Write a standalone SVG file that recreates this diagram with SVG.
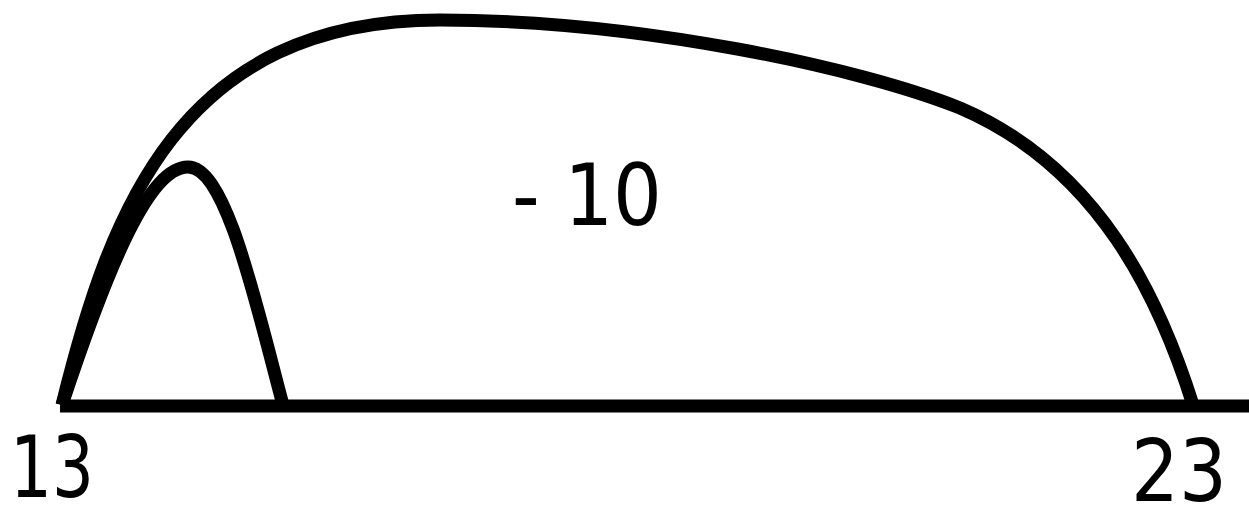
<svg xmlns="http://www.w3.org/2000/svg" width="1249" height="505" viewBox="0 0 1249 505">
<style>
.ln{fill:none;stroke:#000;stroke-width:13}
.t{font-family:"DejaVu Sans","Liberation Sans",sans-serif;font-size:86px;fill:#000}
</style>
<rect width="1249" height="505" fill="#fff"/>
<g id="connectors">
<path class="ln" d="M60,406 H1249"/>
<path class="ln" d="M62,405 C110,210 180,20 440,20 C640,20 860,68 960,108 C1100,168 1160,300 1193,405"/>
<path class="ln" d="M62,405 C110,260 150,167 188,167 C226,167 255,300 283,405"/>
</g>
<g id="label-minus10"><text class="t" x="512" y="225" textLength="150" lengthAdjust="spacingAndGlyphs">- 10</text></g>
<g id="label-13"><text class="t" x="10" y="497" textLength="84" lengthAdjust="spacingAndGlyphs">13</text></g>
<g id="label-23"><text class="t" x="1131" y="501" textLength="96" lengthAdjust="spacingAndGlyphs">23</text></g>
</svg>
